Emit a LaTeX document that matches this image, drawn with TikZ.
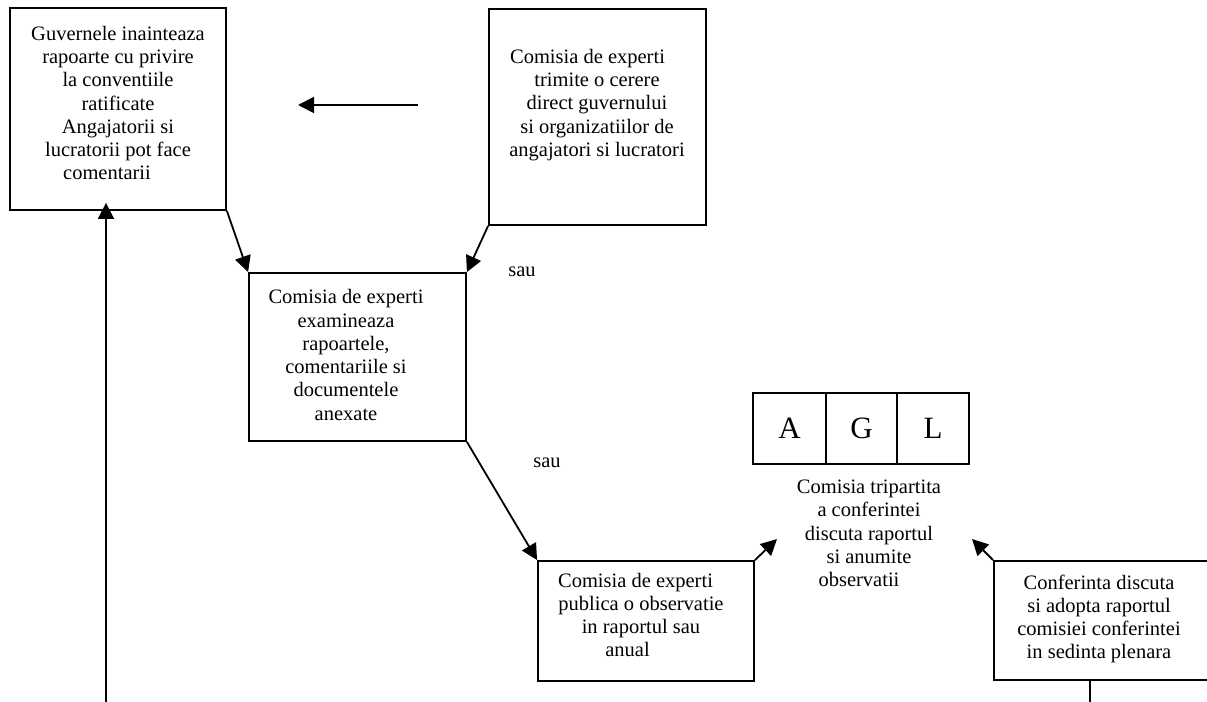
\documentclass[tikz,border=0pt]{standalone}
\usepackage{fontspec}
\setmainfont{Liberation Serif}
\usetikzlibrary{arrows.meta}

\begin{document}
\begin{tikzpicture}[x=1bp,y=-1bp,
  box/.style={draw, line width=1.8bp, inner sep=0pt},
  txt/.style={align=center, inner sep=0pt, font=\fontsize{20.5bp}{23.3bp}\selectfont},
  cell/.style={draw, line width=1.8bp, inner sep=0pt, minimum height=71bp, font=\fontsize{31bp}{34bp}\selectfont},
  arr/.style={line width=1.8bp, -{Triangle[length=16bp,width=16bp]}},
  plain/.style={line width=1.8bp}]

\useasboundingbox (0,0) rectangle (1207,702);
\clip (0,0) rectangle (1207,702);

% boxes
\node[box, minimum width=216bp, minimum height=202bp] (b1) at (118,109) {};
\node[box, minimum width=217bp, minimum height=216bp] (b2) at (597.5,117) {};
\node[box, minimum width=217bp, minimum height=168bp] (b3) at (357.5,357) {};
\node[box, minimum width=216bp, minimum height=120bp] (b4) at (646,621) {};
\node[box, minimum width=216bp, minimum height=119bp] (b5) at (1102,620.5) {};

% texts of the boxes
\node[txt] (t1) at (118,103) {Guvernele inainteaza\\rapoarte cu privire\hspace*{12bp}\\la conventiile\hspace*{25bp}\\ratificate\hspace*{38bp}\\Angajatorii si\hspace*{34bp}\\lucratorii pot face\\comentarii\hspace*{22bp}};
\node[txt] (t2) at (597,105) {Comisia de experti\hspace*{19bp}\\trimite o cerere\hspace*{15bp}\\direct guvernului\hspace*{13bp}\\si organizatiilor de\hspace*{12bp}\\angajatori si lucratori};
\node[txt] (t3) at (346,355) {Comisia de experti\\examineaza\\rapoartele,\\comentariile si\\documentele\\anexate};
\node[txt] (t4) at (641,615) {Comisia de experti\hspace*{11bp}\\publica o observatie\\in raportul sau\hspace*{38bp}\\anual\hspace*{27bp}};
\node[txt] (t5) at (1099,619) {Conferinta discuta\\si adopta raportul\\comisiei conferintei\\in sedinta plenara};

% tripartite committee
\node[cell, minimum width=73bp] (ca) at (789.5,428.5) {A};
\node[cell, minimum width=71bp] (cg) at (861.5,428.5) {G};
\node[cell, minimum width=72bp] (cl) at (933,428.5) {L};
\node[txt] (tr) at (869,533.5) {Comisia tripartita\\a conferintei\hspace*{8bp}\\discuta raportul\hspace*{15bp}\\si anumite\hspace*{16bp}\\observatii\hspace*{20bp}};

% labels
\node[txt] (s1) at (522,272) {sau};
\node[txt] (s2) at (547,463) {sau};

% free ends
\coordinate (h0) at (418,105);
\coordinate (h1) at (298,105);
\coordinate (p4) at (777,539);
\coordinate (p5) at (972,539);
\coordinate (l0) at (106,710);
\coordinate (r0) at (1090,710);

% connectors
\draw[arr] (h0) -- (h1);
\draw[arr] (b1.south east) -- (b3.north west);
\draw[arr] (b2.south west) -- (b3.north east);
\draw[arr] (b3.south east) -- (b4.north west);
\draw[arr] (b4.north east) -- (p4);
\draw[arr] (b5.north west) -- (p5);
\draw[arr] (l0) -- ([yshift=8bp] l0 |- b1.south);
\draw[plain] (r0 |- b5.south) -- (r0);
\end{tikzpicture}
\end{document}
